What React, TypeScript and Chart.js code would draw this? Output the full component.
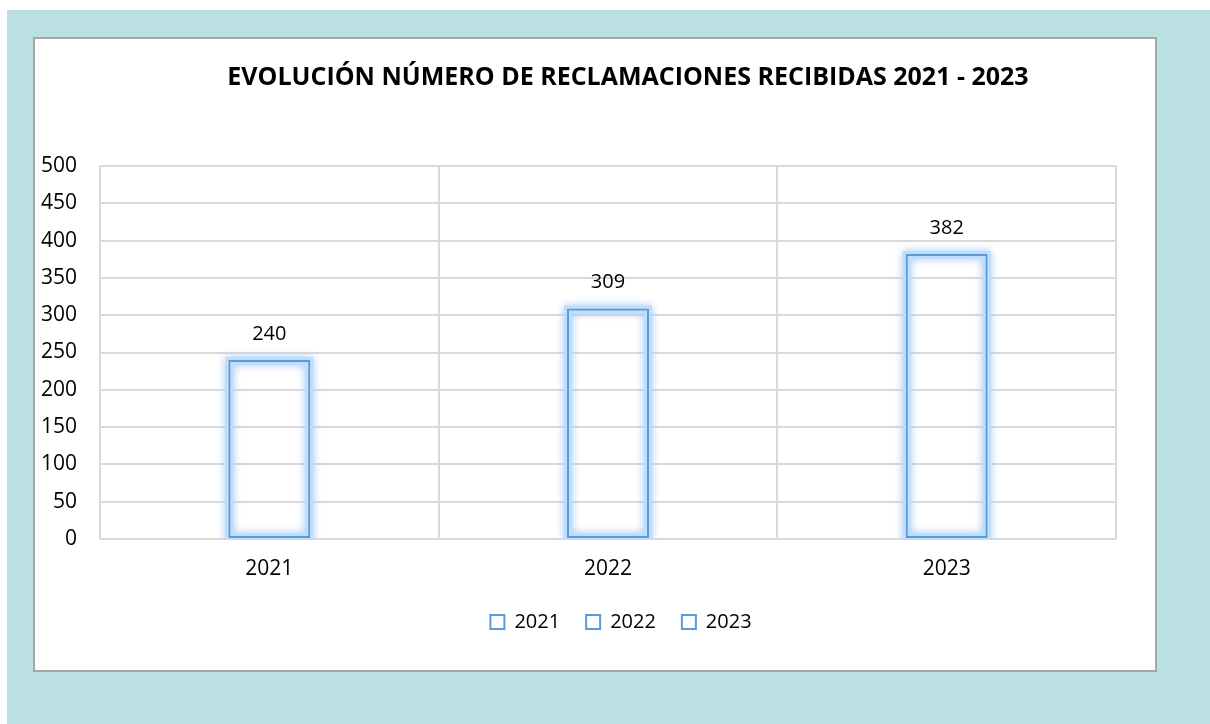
import React, { useEffect, useRef } from 'react';
import { Chart, registerables } from 'chart.js';

Chart.register(...registerables);

const TITLE = 'EVOLUCIÓN NÚMERO DE RECLAMACIONES RECIBIDAS 2021 - 2023';
const categories = ['2021', '2022', '2023'];
const reclamaciones = [240, 309, 382];
const yMin = 0;
const yMax = 500;
const yStep = 50;

const BLUE = '#5B9BD5';
const GRID = '#D9D9D9';
const FONT = "'Open Sans', 'DejaVu Sans', sans-serif";

const glowPlugin = {
  id: 'barGlow',
  beforeDatasetsDraw(chart: any) {
    const { ctx, chartArea } = chart;
    const meta = chart.getDatasetMeta(0);
    ctx.save();
    ctx.beginPath();
    ctx.rect(chartArea.left, chartArea.top - 30, chartArea.right - chartArea.left, chartArea.bottom - chartArea.top + 30);
    ctx.clip();
    meta.data.forEach((bar: any) => {
      const { x, y, base, width } = bar.getProps(['x', 'y', 'base', 'width'], true);
      const left = x - width / 2;
      const top = Math.min(y, base);
      const h = Math.abs(base - y);
      ctx.shadowColor = 'rgba(160,200,248,1)';
      ctx.shadowBlur = 8;
      ctx.strokeStyle = 'rgba(192,221,251,1)';
      ctx.lineWidth = 8;
      ctx.strokeRect(left + 1, top + 1, width - 2, h - 2);
    });
    ctx.restore();
  },
};

const valueLabelPlugin = {
  id: 'valueLabels',
  afterDatasetsDraw(chart: any) {
    const { ctx } = chart;
    const meta = chart.getDatasetMeta(0);
    const data = chart.data.datasets[0].data;
    ctx.save();
    ctx.font = `20px ${FONT}`;
    ctx.fillStyle = '#000';
    ctx.textAlign = 'center';
    ctx.textBaseline = 'middle';
    meta.data.forEach((bar: any, i: number) => {
      const { x, y } = bar.getProps(['x', 'y'], true);
      ctx.fillText(String(data[i]), x, y - 26);
    });
    ctx.restore();
  },
};

const centerShiftPlugin = {
  id: 'centerShift',
  afterLayout(chart: any) {
    const ca = chart.chartArea;
    const mid = (ca.left + ca.right) / 2;
    const shift = (box: any, offset: number) => {
      if (!box) return;
      const half = (box.right - box.left) / 2;
      const c = mid + offset;
      box.left = c - half;
      box.right = c + half;
    };
    shift(chart.titleBlock, 20);
    shift(chart.legend, 13);
  },
};

export default function App() {
  const canvasRef = useRef<HTMLCanvasElement | null>(null);

  useEffect(() => {
    if (!canvasRef.current) return;
    const chart = new Chart(canvasRef.current, {
      type: 'bar',
      data: {
        labels: categories,
        datasets: [
          {
            label: 'Reclamaciones',
            data: reclamaciones,
            backgroundColor: 'rgba(255,255,255,0)',
            borderColor: BLUE,
            borderWidth: 2,
            borderSkipped: false,
            barPercentage: 0.242,
            categoryPercentage: 1,
          },
        ],
      },
      options: {
        responsive: false,
        animation: false,
        layout: { padding: { left: 0, right: 39, top: 0, bottom: 28 } },
        plugins: {
          title: {
            display: true,
            text: TITLE,
            color: '#000',
            font: { family: FONT, size: 25, weight: 'bold', lineHeight: 1.2 },
            padding: { top: 24, bottom: 73 },
          },
          legend: {
            display: true,
            position: 'bottom',
            fullSize: false,
            labels: {
              boxWidth: 14,
              boxHeight: 14,
              padding: 26,
              color: '#000',
              font: { family: FONT, size: 20 },
              generateLabels: () =>
                categories.map((c, i) => ({
                  text: c,
                  fillStyle: 'rgba(255,255,255,0)',
                  strokeStyle: BLUE,
                  lineWidth: 2,
                  hidden: false,
                  index: i,
                  datasetIndex: 0,
                  fontColor: '#000',
                })),
            },
          },
          tooltip: { enabled: false },
        },
        scales: {
          x: {
            grid: { offset: true, color: GRID, lineWidth: 2, drawTicks: false },
            border: { display: false },
            ticks: { color: '#000', font: { family: FONT, size: 21 }, padding: 17 },
            afterFit: (s: any) => {
              s.height = 47;
            },
          },
          y: {
            min: yMin,
            max: yMax,
            ticks: { stepSize: yStep, color: '#000', font: { family: FONT, size: 21 }, padding: 23 },
            grid: { color: GRID, lineWidth: 2, drawTicks: false },
            border: { display: false },
            afterFit: (s: any) => {
              s.width = 65;
            },
          },
        },
      },
      plugins: [glowPlugin, valueLabelPlugin, centerShiftPlugin],
    } as any);
    return () => chart.destroy();
  }, []);

  return (
    <div>
      <div
        style={{
          position: 'absolute',
          left: 7,
          top: 10,
          width: 1203,
          height: 714,
          background: '#BBE0E3',
        }}
      />
      <div
        style={{
          position: 'absolute',
          left: 33,
          top: 37,
          width: 1124,
          height: 635,
          boxSizing: 'border-box',
          border: '2px solid #A6A6A6',
          background: '#FFFFFF',
        }}
      />
      <canvas
        ref={canvasRef}
        width={1120}
        height={631}
        style={{ position: 'absolute', left: 35, top: 39, width: 1120, height: 631 }}
      />
    </div>
  );
}
